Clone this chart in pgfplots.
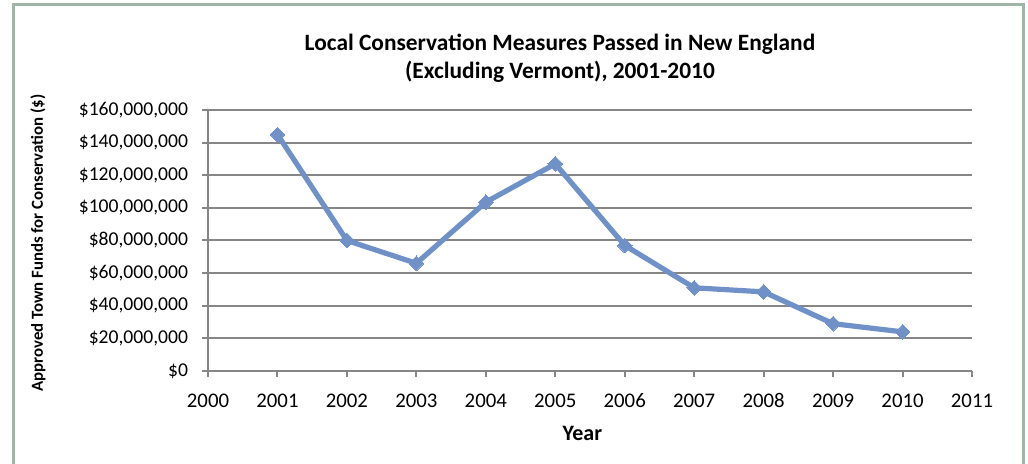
\documentclass[border=0pt]{standalone}
\usepackage{pgfplots}
\pgfplotsset{compat=1.18}
\usepackage{fontspec}
\setmainfont{Carlito}
\definecolor{lineblue}{RGB}{111,145,199}
\definecolor{gridgray}{RGB}{134,134,134}
\definecolor{framegreen}{RGB}{160,180,168}
\pgfplotstableread{
year value
2001 145000000
2002 80000000
2003 66000000
2004 103500000
2005 127000000
2006 77000000
2007 51000000
2008 48500000
2009 29000000
2010 24000000
}\datatable
\begin{document}
\begin{tikzpicture}
\useasboundingbox (0,0) rectangle (514pt,232pt);
\draw[framegreen, line width=1.5pt] (6.5pt,0pt) -- (6.5pt,229.5pt) -- (511.5pt,229.5pt) -- (511.5pt,0pt);
\node[align=center, font=\fontsize{11.7}{14}\selectfont\bfseries] at (280pt,203pt)
  {Local Conservation Measures Passed in New England\\(Excluding Vermont), 2001-2010};
\begin{axis}[
  scale only axis,
  width=382pt, height=130.5pt,
  at={(104pt,46.5pt)}, anchor=south west,
  xmin=2000, xmax=2011,
  ymin=0, ymax=160000000,
  scaled y ticks=false, scaled x ticks=false,
  axis x line*=bottom, axis y line*=left,
  axis line style={gridgray, line width=1pt, -},
  xtick={2000,2001,...,2011},
  xticklabels={2000,2001,2002,2003,2004,2005,2006,2007,2008,2009,2010,2011},
  ytick={0,20000000,40000000,60000000,80000000,100000000,120000000,140000000,160000000},
  yticklabels={\$0,{\$20,000,000},{\$40,000,000},{\$60,000,000},{\$80,000,000},{\$100,000,000},{\$120,000,000},{\$140,000,000},{\$160,000,000}},
  tick align=outside,
  major tick length=3pt,
  tick style={gridgray, line width=1pt},
  ymajorgrids,
  major grid style={gridgray, line width=1pt},
  yticklabel style={font=\fontsize{9.8}{12}\selectfont, text=black, xshift=-3.5pt},
  xticklabel style={font=\fontsize{10.4}{12}\selectfont, text=black, text height=7.1pt, text depth=0pt, yshift=-4.8pt},
  xlabel={Year},
  ylabel={Approved Town Funds for Conservation (\$)},
  xlabel style={at={(axis description cs:0.49,-0.2375)}, anchor=center, font=\fontsize{11}{12}\selectfont\bfseries},
  ylabel style={at={(axis description cs:-0.2225,0.49)}, anchor=center, font=\fontsize{8.4}{10}\selectfont\bfseries},
  clip=false,
]
\addplot[color=lineblue, line width=2.6pt, mark=square*, mark size=2.6pt,
  mark options={rotate=45, fill=lineblue, line width=0pt}] table[x=year, y=value] {\datatable};
\end{axis}
\end{tikzpicture}
\end{document}
